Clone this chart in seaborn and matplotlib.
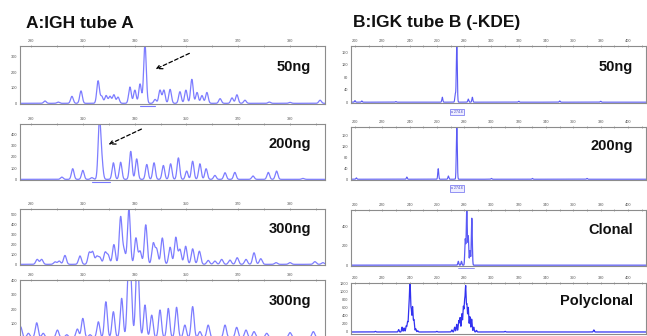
import numpy as np
import pandas as pd
import seaborn as sns
import matplotlib.pyplot as plt
from matplotlib.ticker import MultipleLocator, FixedLocator

# === CONFIG ===
W, H = 647, 336
OUT = "out.png"

# === Data: peaks (size in bp, height in RFU) ===
# A: IGH tube A
igh_50_pos = [295.4, 300.5, 305.8, 309.3, 315.9, 317.3, 319.0, 320.5, 322.0, 323.6, 328.2, 330.1,
              332.1, 334.0, 337.9, 339.8, 341.3, 343.7, 347.5, 349.8, 352.1, 354.1, 356.0, 357.9,
              363.0, 367.6, 369.5, 372.6, 382.0, 390.0, 401.6]
igh_50_h = [15, 8, 45, 80, 145, 45, 50, 45, 55, 40, 105, 85,
            125, 380, 25, 85, 85, 90, 75, 85, 155, 70, 50, 70,
            30, 35, 55, 20, 8, 6, 20]

igh_200_pos = [301.9, 306.1, 310.0, 313.5, 316.4, 317.3, 321.8, 324.6, 328.5, 330.8, 334.7, 337.5,
               341.1, 343.9, 346.9, 350.1, 352.4, 355.2, 357.6, 361.0, 364.9, 368.7, 375.7, 381.6,
               384.8, 395.0]
igh_200_h = [20, 95, 80, 15, 520, 160, 148, 153, 250, 183, 133, 148,
             124, 139, 192, 74, 162, 139, 95, 35, 59, 62, 30, 62,
             74, 8]

igh_300a_pos = [292.4, 294.1, 299.3, 300.9, 303.1, 308.9, 312.5, 313.8, 315.4, 316.6, 318.6, 319.8,
                322.0, 324.6, 325.9, 327.8, 330.5, 332.1, 334.3, 337.2, 338.5, 340.7, 343.7, 345.9,
                347.5, 349.7, 352.4, 355.0, 358.4, 361.0, 363.6, 366.8, 369.6, 373.0, 376.1, 378.7,
                384.6, 390.0, 399.6, 402.7]
igh_300a_h = [50, 50, 25, 33, 90, 85, 117, 123, 77, 67, 117, 90,
              200, 477, 133, 557, 267, 133, 400, 210, 150, 267, 173, 273,
              150, 183, 157, 133, 40, 33, 50, 43, 67, 50, 117, 57,
              17, 17, 27, 17]

igh_300b_pos = [286.0, 289.0, 292.2, 294.7, 300.2, 303.8, 307.9, 310.0, 312.8, 316.0, 318.9, 321.8,
                325.0, 327.6, 328.5, 330.8, 331.4, 334.0, 336.6, 339.8, 343.0, 346.2, 349.4, 352.4,
                355.2, 358.4, 364.9, 369.4, 373.0, 376.1, 381.0, 390.0, 399.0]
igh_300b_h = [76, 30, 104, 30, 53, 20, 60, 135, 20, 111, 252, 182,
              276, 430, 370, 363, 300, 229, 158, 194, 205, 213, 88, 218,
              42, 88, 88, 72, 53, 42, 30, 35, 42]

# B: IGK tube B (-KDE)
igk_50_pos = [200.0, 205.0, 230.0, 264.0, 273.5, 274.6, 283.0, 286.0, 320.0, 350.0, 380.0]
igk_50_h = [5, 4, 2, 16, 27, 200, 10, 16, 3, 4, 3]

igk_200_pos = [201.0, 238.0, 261.0, 268.4, 274.6, 300.0, 330.0, 370.0]
igk_200_h = [5, 8, 39, 12, 210, 3, 3, 3]

clonal_pos = [275.7, 278.0, 280.8, 281.9, 283.0, 284.3, 285.6]
clonal_h = [40, 40, 270, 600, 300, 150, 486]

poly_pos = [215.0, 232.0, 234.5, 236.0, 237.5, 238.5, 239.5, 240.3, 241.2, 242.2, 243.2, 244.5, 246.0,
            260.0, 271.0, 273.0, 274.5, 276.0, 277.0, 278.3, 279.4, 280.3, 281.1, 282.0, 283.0,
            284.2, 285.5, 287.0, 289.0, 310.0, 375.0]
poly_h = [15, 60, 120, 100, 150, 250, 560, 1250, 540, 620, 300, 80, 30,
          15, 50, 120, 190, 280, 355, 450, 610, 700, 1080, 650, 600,
          380, 320, 120, 40, 15, 50]

# bin markers / size tags under the called peaks
igh_bins = {"50ng": (332.1, 337.9), "200ng": (313.5, 320.5)}
igk_tags = {"50ng": "a 274.6", "200ng": "a 274.6"}
clonal_bin = (275.5, 287.2)

igh_xticks = [290, 310, 330, 350, 370, 390]
igk_xticks = [200, 220, 240, 260, 280, 300, 320, 340, 360, 380, 400]


def trace(pos, h, sigma, lo, hi):
    x = np.arange(lo, hi, 0.04)
    y = np.zeros_like(x)
    for p, a in zip(pos, h):
        y += a * np.exp(-0.5 * ((x - p) / sigma) ** 2)
    return pd.DataFrame({"size": x, "rfu": y})


def px_axes(fig, left, top, right, bottom):
    return fig.add_axes([left / W, 1 - bottom / H, (right - left) / W, (bottom - top) / H])


sns.set_style("white")
plt.rcParams["font.family"] = ["Liberation Sans", "DejaVu Sans"]

fig = plt.figure(figsize=(W / 100, H / 100), dpi=100)

left_panels = [
    ("50ng", igh_50_pos, igh_50_h, (46, 104), 370, 100, 0.5),
    ("200ng", igh_200_pos, igh_200_h, (124, 180), 495, 100, 0.5),
    ("300ng", igh_300a_pos, igh_300a_h, (209, 265), 560, 100, 0.55),
    ("300ng", igh_300b_pos, igh_300b_h, (280, 339), 405, 100, 0.55),
]
right_panels = [
    ("50ng", igk_50_pos, igk_50_h, (46, 103), 181, 40, 0.35),
    ("200ng", igk_200_pos, igk_200_h, (127, 180), 193, 40, 0.35),
    ("Clonal", clonal_pos, clonal_h, (210, 266), 571, 200, 0.35),
    ("Polyclonal", poly_pos, poly_h, (283, 334), 1218, 200, 0.35),
]


def style_axes(ax, xlim, xticks, xminor, ytop, ystep, ybottom):
    ax.set_xlim(*xlim)
    ax.set_ylim(ybottom, ytop)
    ax.xaxis.tick_top()
    ax.set_xticks(xticks)
    ax.xaxis.set_minor_locator(MultipleLocator(xminor))
    ax.yaxis.set_major_locator(MultipleLocator(ystep))
    ax.yaxis.set_minor_locator(MultipleLocator(ystep / 2))
    ax.tick_params(which="both", direction="inout", length=2, width=0.4, color="#666666",
                   labelsize=2.8, labelcolor="#555555", pad=1)
    ax.tick_params(which="minor", length=1.2)
    ax.set_xlabel("")
    ax.set_ylabel("")
    for s in ax.spines.values():
        s.set_color("#8c8c8c")
        s.set_linewidth(0.8)


for i, (name, pos, h, (top, bottom), ytop, ystep, sig) in enumerate(left_panels):
    ax = px_axes(fig, 20, top, 325, bottom)
    df = trace(pos, h, sig, 285.0, 405.0)
    sns.lineplot(data=df, x="size", y="rfu", ax=ax, color="#7d7dff", lw=0.9, estimator=None)
    yb = -10 if i == 3 else -0.012 * ytop
    style_axes(ax, (285.75, 403.5), igh_xticks, 10, ytop, ystep, yb)
    if i == 3:
        # bottom of the last panel runs off the page: no "0" label there
        ax.yaxis.set_major_locator(FixedLocator([100, 200, 300, 400]))
    ax.text(0.955, 0.57, name, transform=ax.transAxes, ha="right", va="baseline",
            fontsize=10.5, fontweight="bold", color="#111111")
    if name in igh_bins and i < 2:
        b0, b1 = igh_bins[name]
        ax.plot([b0, b1], [-0.04, -0.04], transform=ax.get_xaxis_transform(),
                color="#7878ff", lw=0.8, clip_on=False)
    if i == 0:
        ax.annotate("", xy=(337.1, 213), xytext=(352.1, 330),
                    arrowprops=dict(arrowstyle="->", ls=(0, (3, 2)), lw=0.9, color="black"))
    if i == 1:
        ax.annotate("", xy=(319.0, 301), xytext=(333.6, 460),
                    arrowprops=dict(arrowstyle="->", ls=(0, (3, 2)), lw=0.9, color="black"))

for name, pos, h, (top, bottom), ytop, ystep, sig in right_panels:
    ax = px_axes(fig, 351, top, 646, bottom)
    df = trace(pos, h, sig, 196.0, 414.0)
    col = "#3232f0" if name == "Polyclonal" else "#5a5af5"
    lw = 0.9 if name in ("Polyclonal", "Clonal") else 0.8
    sns.lineplot(data=df, x="size", y="rfu", ax=ax, color=col, lw=lw, estimator=None)
    yb = -50 if name == "Polyclonal" else -0.015 * ytop
    style_axes(ax, (197.1, 413.2), igk_xticks, 10, ytop, ystep, yb)
    ax.text(0.955, 0.57, name, transform=ax.transAxes, ha="right", va="baseline",
            fontsize=10.5, fontweight="bold", color="#111111")
    if name in igk_tags:
        ax.text(274.6, -0.16, igk_tags[name], transform=ax.get_xaxis_transform(),
                ha="center", va="center", fontsize=2.5, color="#4040c0",
                bbox=dict(boxstyle="square,pad=0.3", fc="#eeeeff", ec="#6a6af0", lw=0.5))
    if name == "Clonal":
        ax.plot(list(clonal_bin), [-0.04, -0.04], transform=ax.get_xaxis_transform(),
                color="#8080f0", lw=0.6, clip_on=False)

fig.text(26 / W, 1 - 27.5 / H, "A:IGH tube A", fontsize=12.5, fontweight="bold", color="#111111")
fig.text(352.5 / W, 1 - 27.5 / H, "B:IGK tube B (-KDE)", fontsize=12.5, fontweight="bold",
         color="#111111")

fig.savefig(OUT, dpi=100)
